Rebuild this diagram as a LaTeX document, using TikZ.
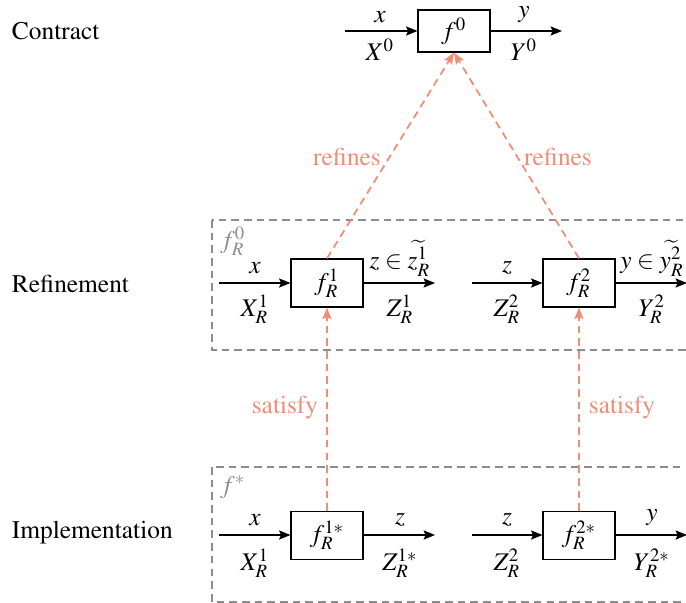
\documentclass[tikz,border=0pt]{standalone}
\usepackage[T1]{fontenc}
\usepackage{mathptmx}
\usetikzlibrary{arrows.meta}
\definecolor{sal}{RGB}{238,142,118}
\definecolor{frame}{RGB}{140,140,140}
\begin{document}
\begin{tikzpicture}[x=0.394pt,y=-0.394pt,
  blk/.style={draw, line width=0.5pt, minimum width=28.3pt, minimum height=18.9pt, inner sep=0pt},
  sig/.style={-{Stealth[length=4.5pt,width=3.6pt,inset=0.8pt]}, line width=0.45pt},
  rel/.style={-{Stealth[length=4.5pt,width=3.6pt,inset=0.8pt]}, sal, dash pattern=on 3pt off 2pt, line width=0.7pt},
  grp/.style={frame, dash pattern=on 3pt off 2pt, line width=0.45pt},
  rlab/.style={text=sal},
  lvl/.style={anchor=west}]
\useasboundingbox (0,0) rectangle (686,603);
\clip (0,0) rectangle (686,603);
% level labels
\node[lvl] (lc) at (3,31) {Contract};
\node[lvl] (lr) at (3,284) {Refinement};
\node[lvl] (li) at (3,533) {Implementation};
% group frames
\draw[grp] (212,220) rectangle (730,350);
\draw[grp] (212,467) rectangle (730,602);
\node[text=frame] (gr) at (233,241) {$f_R^0$};
\node[text=frame] (gi) at (233,487) {$f^*$};
% contract
\node[blk, minimum height=16.6pt] (f0) at (454,31) {$f^0$};
\coordinate (a0) at (345,31);
\coordinate (b0) at (562,31);
\draw[sig] (a0) -- (f0);
\draw[sig] (f0) -- (b0);
\node (lx0) at (380,17) {$x$};
\node (lX0) at (380,50) {$X^0$};
\node (ly0) at (524,15) {$y$};
\node (lY0) at (524,50) {$Y^0$};
% refinement
\node[blk] (f1) at (327,283) {$f_R^1$};
\node[blk] (f2) at (579,283) {$f_R^2$};
\coordinate (a1) at (219,283);
\coordinate (b1) at (435,283);
\coordinate (a2) at (472,283);
\coordinate (b2) at (687,283);
\draw[sig] (a1) -- (f1);
\draw[sig] (f1) -- (b1);
\draw[sig] (a2) -- (f2);
\draw[sig] (f2) -- (b2);
\node (lx1) at (255,268) {$x$};
\node (lX1) at (255,309) {$X_R^1$};
\node (lz1) at (400,258) {$z\in\widetilde{z_R^1}$};
\node (lZ1) at (400,309) {$Z_R^1$};
\node (lz2) at (507,268) {$z$};
\node (lZ2) at (507,309) {$Z_R^2$};
\node (ly2) at (652,258) {$y\in\widetilde{y_R^2}$};
\node (lY2) at (652,309) {$Y_R^2$};
% implementation
\node[blk] (g1) at (327,535.5) {$f_R^{1*}$};
\node[blk] (g2) at (579,535.5) {$f_R^{2*}$};
\coordinate (c1) at (219,535);
\coordinate (d1) at (435,535);
\coordinate (c2) at (472,535);
\coordinate (d2) at (687,535);
\draw[sig] (c1) -- (c1 -| g1.west);
\draw[sig] (g1.east |- d1) -- (d1);
\draw[sig] (c2) -- (c2 -| g2.west);
\draw[sig] (g2.east |- d2) -- (d2);
\node (mx1) at (255,520) {$x$};
\node (mX1) at (255,563) {$X_R^1$};
\node (mz1) at (400,520) {$z$};
\node (mZ1) at (400,563) {$Z_R^{1*}$};
\node (mz2) at (507,520) {$z$};
\node (mZ2) at (507,563) {$Z_R^2$};
\node (my2) at (652,518) {$y$};
\node (mY2) at (652,563) {$Y_R^{2*}$};
% relations
\draw[rel] (f1.north) -- (f0.south);
\draw[rel] (f2.north) -- (f0.south);
\node[rlab] (r1) at (347,157) {refines};
\node[rlab] (r2) at (558,157) {refines};
\draw[rel] (g1.north) -- (f1.south);
\draw[rel] (g2.north) -- (f2.south);
\node[rlab] (s1) at (285,408) {satisfy};
\node[rlab] (s2) at (622,408) {satisfy};
\end{tikzpicture}
\end{document}
